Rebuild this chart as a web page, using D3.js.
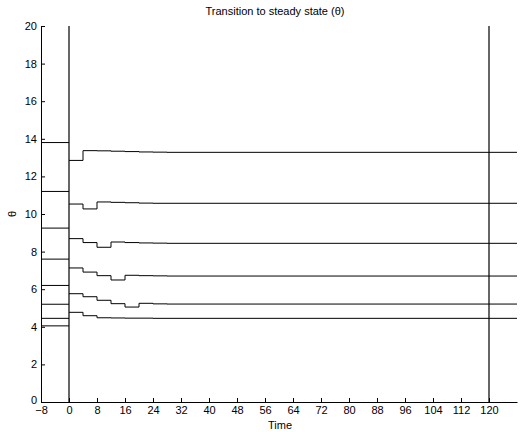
<!DOCTYPE html>
<html>
<head>
<meta charset="utf-8">
<script src="https://cdn.jsdelivr.net/npm/d3@7"></script>
<style>
  body { margin: 0; background: #fff; }
  svg { display: block; font-family: "Liberation Sans", Arial, sans-serif; }
  .axis text { font-size: 11px; fill: #000; }
  .axis path, .axis line { stroke: #000; }
</style>
</head>
<body>
<svg id="chart" width="523" height="432"></svg>
<script>
// levels held before t = 0
const initialLevels = [13.8, 11.2, 9.25, 7.6, 6.2, 5.2, 4.45, 4.05];

// step times after t = 0 (each value holds until the next step)
const stepTimes = [0, 4, 8, 12, 16, 20, 24, 28];

const series = [
  [12.85, 13.37, 13.36, 13.34, 13.32, 13.30, 13.29, 13.28],
  [10.53, 10.27, 10.64, 10.62, 10.60, 10.58, 10.57, 10.57],
  [8.69, 8.48, 8.23, 8.51, 8.48, 8.46, 8.45, 8.44],
  [7.13, 6.91, 6.72, 6.49, 6.74, 6.72, 6.71, 6.70],
  [5.76, 5.60, 5.41, 5.23, 5.05, 5.25, 5.22, 5.21],
  [4.77, 4.59, 4.48, 4.47, 4.46, 4.46, 4.45, 4.45],
];

const markerTimes = [0, 120];
const xTicks = d3.range(-8, 121, 8);
const yTicks = d3.range(0, 21, 2);

const margin = { top: 26, right: 6, bottom: 30, left: 41 };
const width = 523, height = 432;
const svg = d3.select("#chart");

const x = d3.scaleLinear().domain([-8, 128]).range([margin.left, width - margin.right]);
const y = d3.scaleLinear().domain([0, 20]).range([height - margin.bottom, margin.top]);

// axes
svg.append("g")
  .attr("class", "axis")
  .attr("transform", `translate(0,${y(0)})`)
  .call(d3.axisBottom(x).tickValues(xTicks).tickSize(-4).tickPadding(4).tickSizeOuter(0)
    .tickFormat(d => d < 0 ? "\u2212" + Math.abs(d) : d));

const yAxis = svg.append("g")
  .attr("class", "axis")
  .attr("transform", `translate(${x(-8)},0)`)
  .call(d3.axisLeft(y).tickValues(yTicks).tickSize(-4).tickPadding(4).tickSizeOuter(0));
// keep the "0" clear of the "−8" below it
yAxis.selectAll(".tick text").filter(d => d === 0).attr("dy", "0.1em");

// vertical markers
svg.selectAll(".marker")
  .data(markerTimes)
  .enter()
  .append("line")
  .attr("x1", d => x(d)).attr("x2", d => x(d))
  .attr("y1", y(0)).attr("y2", y(20))
  .attr("stroke", "#000")
  .attr("stroke-width", 1.2);

// pre-transition levels
svg.selectAll(".initial")
  .data(initialLevels)
  .enter()
  .append("line")
  .attr("x1", x(-8)).attr("x2", x(0))
  .attr("y1", d => y(d)).attr("y2", d => y(d))
  .attr("stroke", "#000")
  .attr("stroke-width", 1);

// step paths
const line = d3.line()
  .x(d => x(d.t))
  .y(d => y(d.v))
  .curve(d3.curveStepAfter);

series.forEach((vals) => {
  const pts = vals.map((v, i) => ({ t: stepTimes[i], v }));
  pts.push({ t: 128, v: vals[vals.length - 1] });
  svg.append("path")
    .datum(pts)
    .attr("fill", "none")
    .attr("stroke", "#000")
    .attr("stroke-width", 1)
    .attr("d", line);
});

// labels
svg.append("text")
  .attr("x", 275).attr("y", 15)
  .attr("text-anchor", "middle")
  .attr("font-size", 11)
  .text("Transition to steady state (\u03b8)");

svg.append("text")
  .attr("x", 280).attr("y", 429)
  .attr("text-anchor", "middle")
  .attr("font-size", 11)
  .text("Time");

svg.append("text")
  .attr("transform", "translate(16,214) rotate(-90)")
  .attr("text-anchor", "middle")
  .attr("font-size", 11)
  .text("\u03b8");
</script>
</body>
</html>
